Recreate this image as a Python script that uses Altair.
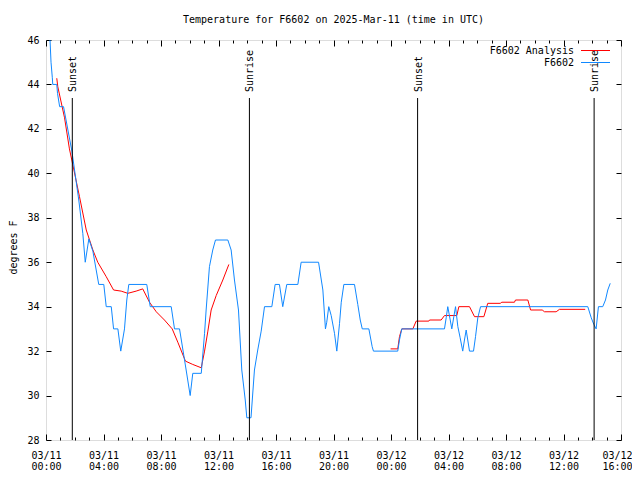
import altair as alt
import pandas as pd

# ---- data (hours after 03/11 00:00 UTC, deg F) ----
obs_hours = [0.28, 0.35, 0.44, 0.47, 0.75, 0.80, 0.95, 1.22, 1.80, 2.28, 2.56, 2.73, 2.98, 3.26,
             3.67, 4.02, 4.19, 4.54, 4.70, 5.00, 5.20, 5.46, 5.62, 5.76, 7.01, 7.25, 8.71, 8.94,
             9.29, 9.75, 10.03, 10.21, 10.80, 11.03, 11.14, 11.37, 11.60, 11.79, 12.65, 12.88,
             13.11, 13.39, 13.62, 13.86, 13.97, 14.26, 14.50, 14.73, 14.97, 15.20, 15.71, 15.94,
             16.24, 16.47, 16.75, 17.52, 17.75, 18.96, 19.26, 19.44, 19.53, 19.67, 19.84, 20.07,
             20.23, 20.42, 20.54, 20.72, 21.46, 21.69, 21.86, 22.00, 22.46, 22.69, 22.78, 24.47,
             24.59, 24.75, 27.72, 27.84, 27.95, 28.12, 28.23, 28.37, 28.49, 28.65, 28.81, 28.99,
             29.11, 29.23, 29.34, 29.46, 29.74, 29.88, 30.04, 30.23, 37.69, 37.93, 38.11, 38.27,
             38.43, 38.73, 38.92, 39.08, 39.25]
obs_temps = [46.0, 45.0, 44.3, 44.0, 44.0, 43.6, 43.0, 43.0, 41.0, 38.8, 37.3, 36.0, 37.05, 36.5,
             35.0, 35.0, 34.0, 34.0, 33.0, 33.0, 32.0, 33.0, 34.3, 35.0, 35.0, 34.0, 34.0, 33.0,
             33.0, 31.15, 30.0, 31.0, 31.0, 32.8, 33.85, 35.8, 36.55, 37.0, 37.0, 36.55,
             35.2, 33.85, 31.15, 29.8, 29.0, 29.0, 31.15, 32.05, 32.9, 34.0, 34.0, 35.0,
             35.0, 34.0, 35.0, 35.0, 36.0, 36.0, 34.75, 33.0, 33.3, 34.0, 33.6, 32.8,
             32.0, 33.25, 34.2, 35.0, 35.0, 34.1, 33.4, 33.0, 33.0, 32.2, 32.0, 32.0,
             32.5, 33.0, 33.0, 33.5, 34.0, 33.4, 33.0, 33.55, 34.0, 33.1, 32.6, 32.0,
             32.5, 32.95, 32.5, 32.0, 32.0, 32.65, 33.5, 34.0, 34.0, 33.5, 33.2, 33.0,
             34.0, 34.0, 34.3, 34.75, 35.05]

ana1_hours = [0.75, 0.82, 1.29, 1.63, 1.86, 2.33, 2.80, 3.26, 3.60, 4.19, 4.70, 5.23, 5.69, 6.27,
              6.73, 7.20, 7.67, 8.24, 8.78, 9.17, 9.70, 10.21, 10.80, 11.03, 11.26, 11.49, 11.84,
              12.30, 12.72]
ana1_temps = [44.28, 43.9, 42.5, 41.1, 40.4, 38.95, 37.45, 36.55, 36.0, 35.35, 34.75, 34.7, 34.6,
              34.7, 34.8, 34.2, 33.77, 33.4, 33.0, 32.4, 31.55, 31.4, 31.25, 32.0, 32.9, 33.85,
              34.5, 35.2, 35.9]

ana2_hours = [23.97, 24.47, 24.59, 24.75, 25.52, 25.75, 26.63, 26.68, 27.49, 27.72, 28.58, 28.72,
              29.46, 29.81, 30.46, 30.73, 31.60, 31.71, 32.59, 32.66, 33.52, 33.71, 34.52, 34.68,
              35.49, 35.72, 37.51]
ana2_temps = [32.1, 32.1, 32.65, 33.0, 33.0, 33.35, 33.35, 33.4, 33.4, 33.6, 33.6, 34.0, 34.0,
              33.55, 33.55, 34.15, 34.15, 34.2, 34.2, 34.3, 34.3, 33.85, 33.85, 33.77, 33.77,
              33.88, 33.88]

sun_hours = [1.83, 14.15, 25.85, 38.13]
sun_labels = ["Sunset", "Sunrise", "Sunset", "Sunrise"]

series_names = ["F6602 Analysis", "F6602"]
series_colors = ["#ff0000", "#1088ff"]

x_major = list(range(0, 41, 4))
x_all = list(range(0, 41))
y_ticks = list(range(28, 47, 2))

rows = []
for h, v in zip(ana1_hours, ana1_temps):
    rows.append({"h": h, "v": v, "series": series_names[0], "seg": "a1"})
for h, v in zip(ana2_hours, ana2_temps):
    rows.append({"h": h, "v": v, "series": series_names[0], "seg": "a2"})
for h, v in zip(obs_hours, obs_temps):
    rows.append({"h": h, "v": v, "series": series_names[1], "seg": "obs"})
df = pd.DataFrame(rows)
sun_df = pd.DataFrame({"h": sun_hours, "label": sun_labels})

FONT = "DejaVu Sans Mono"
W, H = 575, 400
xs = alt.Scale(domain=[0, 40], nice=False, zero=False)
ys = alt.Scale(domain=[28, 46], nice=False, zero=False)
color_scale = alt.Scale(domain=series_names, range=series_colors)

tick_size_x = {"condition": {"test": "datum.value % 4 === 0", "value": 6}, "value": 3}
label_expr = ("[datum.value < 24 ? '03/11' : '03/12', "
              "(datum.value % 24 < 10 ? '0' : '') + (datum.value % 24) + ':00']")
last_label_shift = {"condition": {"test": "datum.value >= 40", "value": -4}, "value": 0}

lines = alt.Chart(df).mark_line(strokeWidth=1, clip=True).encode(
    x=alt.X("h:Q", scale=xs, axis=alt.Axis(
        orient="bottom", values=x_major, labelExpr=label_expr, ticks=False, domain=False,
        grid=False, labelFont=FONT, labelFontSize=10, labelColor="black", labelPadding=10,
        labelBaseline="top", labelLineHeight=11, labelFlush=False, labelOverlap=False,
        labelOffset=last_label_shift, title=None)),
    y=alt.Y("v:Q", scale=ys, axis=alt.Axis(
        orient="left", values=y_ticks, ticks=False, domain=False, grid=False,
        labelFont=FONT, labelFontSize=10, labelColor="black", labelPadding=7,
        title="degrees F", titleFont=FONT, titleFontSize=10, titleFontWeight="normal",
        titleColor="black", titleX=-30, titleY=207, titleAngle=270, titleAlign="center",
        titleBaseline="alphabetic")),
    color=alt.Color("series:N", scale=color_scale, legend=None),
    detail="seg:N",
)

ticks_a = alt.Chart(df).mark_line(strokeOpacity=0).encode(
    x=alt.X("h:Q", scale=xs, axis=alt.Axis(
        orient="top", offset=-H, values=x_all, labels=False, domain=False, grid=False,
        ticks=True, tickSize=tick_size_x, tickColor="black", tickWidth=1, title=None)),
    y=alt.Y("v:Q", scale=ys, axis=alt.Axis(
        orient="right", offset=-W, values=y_ticks, labels=False, domain=False, grid=False,
        ticks=True, tickSize=5, tickColor="black", tickWidth=1, title=None)),
)

ticks_b = alt.Chart(df).mark_line(strokeOpacity=0).encode(
    x=alt.X("h:Q", scale=xs, axis=alt.Axis(
        orient="bottom", offset=-H, values=x_all, labels=False, domain=False, grid=False,
        ticks=True, tickSize=tick_size_x, tickColor="black", tickWidth=1, title=None)),
    y=alt.Y("v:Q", scale=ys, axis=alt.Axis(
        orient="left", offset=-W, values=y_ticks, labels=False, domain=False, grid=False,
        ticks=True, tickSize=5, tickColor="black", tickWidth=1, title=None)),
)

sun_rules = alt.Chart(sun_df).mark_rule(color="black", strokeWidth=1).encode(
    x=alt.X("h:Q", scale=xs, axis=None),
    y=alt.value(58),
    y2=alt.value(H),
)

sun_text = alt.Chart(sun_df).mark_text(
    angle=270, align="left", baseline="middle", dy=1, font=FONT, fontSize=10, color="black"
).encode(
    x=alt.X("h:Q", scale=xs, axis=None),
    y=alt.value(52),
    text="label:N",
)

# key (top right, gnuplot style: label, then line sample)
legend_layers = []
for i, name in enumerate(series_names):
    key_df = pd.DataFrame({"series": [name]})
    legend_layers.append(
        alt.Chart(key_df).mark_text(align="right", baseline="middle", font=FONT, fontSize=10,
                                    color="black").encode(
            x=alt.value(528), y=alt.value(10.5 + 12 * i), text="series:N"))
    legend_layers.append(
        alt.Chart(key_df).mark_rule(strokeWidth=1).encode(
            x=alt.value(535), x2=alt.value(564), y=alt.value(10.5 + 12 * i),
            color=alt.Color("series:N", scale=color_scale, legend=None)))

chart = alt.layer(lines, ticks_a, ticks_b, sun_rules, sun_text, *legend_layers).resolve_axis(
    x="independent", y="independent"
).properties(
    width=W, height=H,
    autosize=alt.AutoSizeParams(type="none"),
    padding={"left": 38, "top": 32, "right": 11, "bottom": 32},
    title=alt.TitleParams("Temperature for F6602 on 2025-Mar-11 (time in UTC)", font=FONT,
                          fontSize=10, fontWeight="normal", color="black", anchor="middle",
                          frame="group", baseline="alphabetic", offset=2),
).configure_view(stroke="black", strokeWidth=1).configure(background="white")

chart.save("out.html", embed_options={"renderer": "svg", "actions": False})
